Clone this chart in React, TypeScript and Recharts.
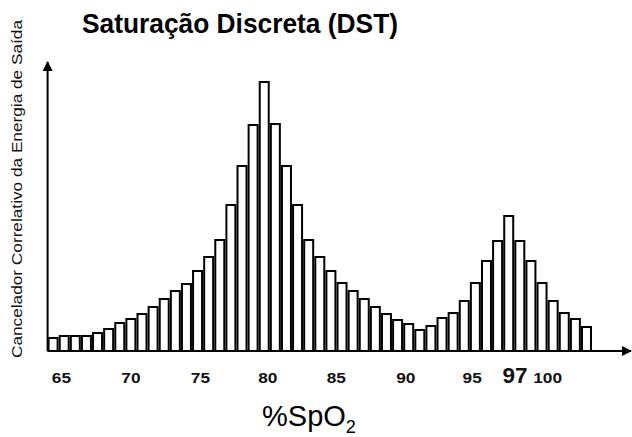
import { BarChart, Bar, XAxis, YAxis } from 'recharts';

// bin centres (%SpO2) and relative bar heights
const bins = [
  64.4, 65.2, 66.0, 66.8, 67.6, 68.4, 69.2, 70.0, 70.8, 71.6,
  72.4, 73.2, 74.0, 74.8, 75.6, 76.4, 77.2, 78.0, 78.8, 79.6,
  80.4, 81.2, 82.0, 82.8, 83.6, 84.4, 85.2, 86.0, 86.8, 87.6,
  88.4, 89.2, 90.0, 90.8, 91.6, 92.4, 93.2, 94.0, 94.8, 95.6,
  96.4, 97.2, 98.0, 98.8, 99.6, 100.4, 101.2, 102.0, 102.8,
];
const counts = [
  13, 15, 15, 15, 18, 22, 28, 32, 37, 44,
  52, 60, 67, 80, 94, 111, 146, 185, 226, 269,
  227, 185, 146, 111, 94, 80, 68, 60, 52, 44,
  37, 31, 27, 21, 25, 33, 38, 50, 68, 90,
  110, 135, 110, 90, 68, 50, 38, 32, 24,
];
const xTicks = [65, 70, 75, 80, 85, 90, 95, 97, 100];

const title = 'Saturação Discreta (DST)';
const yLabel = 'Cancelador Correlativo da Energia de Saída';

const chartData = bins.map((b, i) => ({ spo2: b, value: counts[i] }));

const FONT = '"Liberation Sans", Arial, sans-serif';

// small label nudges, the original labels are hand placed
const tickNudge: Record<number, number> = { 80: -2, 85: -3, 90: -3, 95: -6, 97: 9 };

function SpTick(props: any) {
  const { x, y, payload } = props;
  const v = payload.value as number;
  const big = v === 97;
  const s = String(v);
  return (
    <text
      x={x + (tickNudge[v] || 0)}
      y={y}
      dy={24}
      textAnchor="middle"
      fontFamily={FONT}
      fontWeight="bold"
      fontSize={big ? 22 : 15}
      fill="#111"
      textLength={big ? 25 : s.length * 9.6}
      lengthAdjust="spacingAndGlyphs"
    >
      {s}
    </text>
  );
}

export default function App() {
  return (
    <div style={{ position: 'absolute', left: 0, top: 0, width: 632, height: 437, background: '#fff' }}>
      <BarChart
        width={632}
        height={437}
        data={chartData}
        margin={{ top: 62, right: 1, left: 46.6, bottom: 56 }}
      >
        <XAxis
          dataKey="spo2"
          type="number"
          height={30}
          domain={[64, 105.5]}
          ticks={xTicks}
          interval={0}
          tick={<SpTick />}
          tickLine={false}
          axisLine={{ stroke: '#000', strokeWidth: 2, markerEnd: 'url(#arrowHead)' }}
          allowDecimals={false}
        />
        <YAxis
          width={1}
          domain={[0, 289]}
          tick={false}
          tickLine={false}
          axisLine={{ stroke: '#000', strokeWidth: 2, markerStart: 'url(#arrowHead)' }}
        />
        <Bar
          dataKey="value"
          fill="#fff"
          stroke="#000"
          strokeWidth={2}
          barSize={9}
          isAnimationActive={false}
        />
      </BarChart>
      <svg
        width={632}
        height={437}
        style={{ position: 'absolute', left: 0, top: 0, pointerEvents: 'none' }}
      >
        <defs>
          <marker
            id="arrowHead"
            viewBox="0 0 10 10"
            refX="9"
            refY="5"
            markerWidth="5"
            markerHeight="5"
            orient="auto-start-reverse"
          >
            <path d="M0,0 L10,5 L0,10 z" fill="#000" />
          </marker>
        </defs>
        <text
          x={240}
          y={33}
          textAnchor="middle"
          fontFamily={FONT}
          fontWeight="bold"
          fontSize={27}
          textLength={316}
          lengthAdjust="spacingAndGlyphs"
          fill="#000"
        >
          {title}
        </text>
        <text
          transform="translate(22, 189) rotate(-90)"
          textAnchor="middle"
          fontFamily={FONT}
          fontSize={14}
          textLength={338}
          lengthAdjust="spacingAndGlyphs"
          fill="#111"
        >
          {yLabel}
        </text>
        <text x={262} y={426} fontFamily={FONT} fontSize={29} fill="#000">
          %SpO<tspan fontSize={18} dy={7}>2</tspan>
        </text>
      </svg>
    </div>
  );
}
